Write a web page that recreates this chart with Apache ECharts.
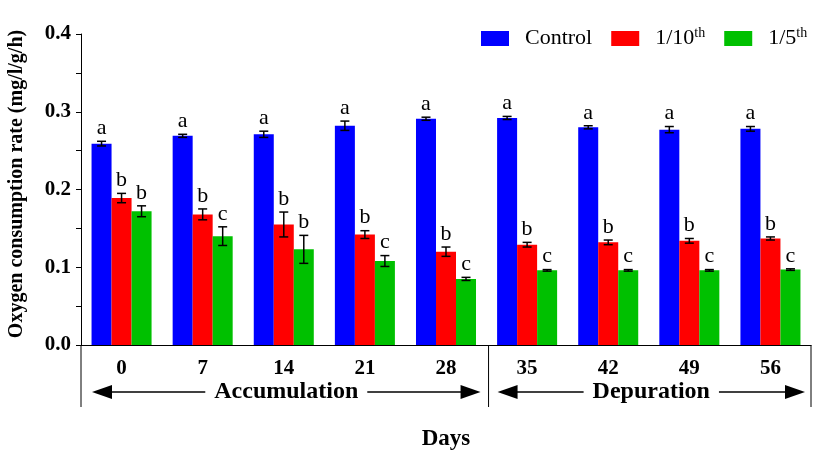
<!DOCTYPE html>
<html>
<head>
<meta charset="utf-8">
<script src="https://cdn.jsdelivr.net/npm/echarts@6/dist/echarts.min.js"></script>
<style>html,body{margin:0;padding:0;background:#fff}#c{width:829px;height:450px}</style>
</head>
<body>
<div id="c"></div>
<script>
const categories = ['0','7','14','21','28','35','42','49','56'];
const seriesNames = ['Control','1/10th','1/5th'];
const controlVals = [0.259,0.269,0.271,0.282,0.291,0.292,0.280,0.277,0.278];
const tenthVals   = [0.189,0.168,0.155,0.142,0.120,0.129,0.132,0.134,0.137];
const fifthVals   = [0.172,0.140,0.123,0.108,0.085,0.096,0.096,0.096,0.097];
const controlErr  = [0.003,0.002,0.004,0.006,0.002,0.002,0.002,0.004,0.003];
const tenthErr    = [0.006,0.007,0.016,0.005,0.006,0.003,0.003,0.003,0.002];
const fifthErr    = [0.007,0.012,0.018,0.007,0.002,0.001,0.001,0.001,0.001];
const controlSig  = ['a','a','a','a','a','a','a','a','a'];
const tenthSig    = ['b','b','b','b','b','b','b','b','b'];
const fifthSig    = ['b','c','b','c','c','c','c','c','c'];
const yTickLabels = ['0.0','0.1','0.2','0.3','0.4'];
const phaseNames  = ['Accumulation','Depuration'];
const phaseStart  = [0,5];
const phaseEnd    = [4,8];

const colors = ['#0000ff','#ff0000','#00c000'];
const FONT = "'Liberation Serif','Times New Roman',serif";
const CAT_GAP = 0.26;

const values = [controlVals, tenthVals, fifthVals];
const errs = [controlErr, tenthErr, fifthErr];
const sigs = [controlSig, tenthSig, fifthSig];

function errSeries(g) {
  return {
    type: 'custom',
    name: seriesNames[g] + '_err',
    z: 5,
    data: categories.map((c, i) => [i, values[g][i], errs[g][i], sigs[g][i]]),
    renderItem: function (params, api) {
      const idx = api.value(0), v = api.value(1), e = api.value(2);
      const band = api.size([1, 0])[0];
      const bw = band * (1 - CAT_GAP) / 3;
      const cx = api.coord([idx, 0])[0] + (g - 1) * bw;
      const yt = api.coord([idx, v + e])[1];
      const yb = api.coord([idx, v - e])[1];
      const cw = 4.5;
      const st = { stroke: '#000', lineWidth: 1.5 };
      return {
        type: 'group',
        children: [
          { type: 'line', shape: { x1: cx, y1: yt, x2: cx, y2: yb }, style: st },
          { type: 'line', shape: { x1: cx - cw, y1: yt, x2: cx + cw, y2: yt }, style: st },
          { type: 'line', shape: { x1: cx - cw, y1: yb, x2: cx + cw, y2: yb }, style: st },
          { type: 'text', x: cx, y: yt - 2, style: { text: sigs[g][idx], fill: '#000', font: '22px ' + FONT, textAlign: 'center', textVerticalAlign: 'bottom' } }
        ]
      };
    }
  };
}

const chart = echarts.init(document.getElementById('c'));
const option = {
  animation: false,
  backgroundColor: '#fff',
  grid: { left: 81, right: 18, top: 34, bottom: 105, containLabel: false, outerBoundsMode: 'none' },
  legend: {
    data: seriesNames,
    left: 481, top: 26, padding: 0,
    itemWidth: 28, itemHeight: 15, itemGap: 19,
    icon: 'rect',
    formatter: function (n) { return n.replace('th', '{sup|th}'); },
    textStyle: {
      fontFamily: FONT, fontSize: 22, color: '#000', padding: [0, 0, 0, 11],
      rich: { sup: { fontFamily: FONT, fontSize: 14, verticalAlign: 'bottom', padding: [0, 0, 11, 0] } }
    }
  },
  xAxis: {
    type: 'category',
    data: categories,
    name: 'Days',
    nameLocation: 'middle',
    nameGap: 83,
    nameTextStyle: { fontFamily: FONT, fontSize: 23, fontWeight: 'bold', color: '#000' },
    axisLine: { lineStyle: { color: '#000', width: 1 } },
    axisTick: { alignWithLabel: true, length: 7, lineStyle: { color: '#000' } },
    axisLabel: { fontFamily: FONT, fontSize: 21, fontWeight: 'bold', color: '#000', margin: 13 }
  },
  yAxis: {
    type: 'value',
    min: 0, max: 0.4, interval: 0.1,
    name: 'Oxygen consumption rate (mg/l/g/h)',
    nameLocation: 'middle',
    nameGap: 54,
    nameTextStyle: { fontFamily: FONT, fontSize: 20, fontWeight: 'bold', color: '#000', padding: [0, 0, 0, 11] },
    axisLine: { show: true, lineStyle: { color: '#000', width: 1 } },
    axisTick: { show: true, length: 5, lineStyle: { color: '#000' } },
    minorTick: { show: true, splitNumber: 2, length: 5, lineStyle: { color: '#000' } },
    splitLine: { show: false },
    axisLabel: {
      fontFamily: FONT, fontSize: 21, fontWeight: 'bold', color: '#000', margin: 10,
      formatter: function (v) { return yTickLabels[Math.round(v * 10)]; }
    }
  },
  series: [
    ...seriesNames.map((n, g) => ({
      type: 'bar', name: n, data: values[g],
      barGap: '0%', barCategoryGap: (CAT_GAP * 100) + '%',
      itemStyle: { color: colors[g] }
    })),
    errSeries(0), errSeries(1), errSeries(2)
  ]
};
chart.setOption(option);

// bottom phase decorations, positioned from the category axis scale
function px(i) { return chart.convertToPixel({ xAxisIndex: 0 }, i); }
const band = px(1) - px(0);
const axisY = chart.convertToPixel({ yAxisIndex: 0 }, 0);
const bottomY = axisY + 62;
const arrowY = axisY + 47;
const gfx = [];
const bounds = [];
phaseNames.forEach((name, k) => {
  const x0 = px(phaseStart[k]) - band / 2;
  const x1 = px(phaseEnd[k]) + band / 2;
  bounds.push(x0, x1);
  const a0 = x0 + 11, a1 = x1 - 6;
  const hl = 20, hh = 7;
  gfx.push({ type: 'line', shape: { x1: a0 + hl - 2, y1: arrowY, x2: a1 - hl + 2, y2: arrowY }, style: { stroke: '#000', lineWidth: 1.5 } });
  gfx.push({ type: 'polygon', shape: { points: [[a0, arrowY], [a0 + hl, arrowY - hh], [a0 + hl, arrowY + hh]] }, style: { fill: '#000' } });
  gfx.push({ type: 'polygon', shape: { points: [[a1, arrowY], [a1 - hl, arrowY - hh], [a1 - hl, arrowY + hh]] }, style: { fill: '#000' } });
  gfx.push({ type: 'text', x: (a0 + a1) / 2, y: arrowY, z: 10, style: { text: name, font: 'bold 24px ' + FONT, fill: '#000', textAlign: 'center', textVerticalAlign: 'middle', backgroundColor: '#fff', padding: [0, 9] } });
});
const seps = [bounds[0], (bounds[1] + bounds[2]) / 2 + 2, bounds[3]];
seps.forEach(x => gfx.push({ type: 'line', shape: { x1: x, y1: axisY, x2: x, y2: bottomY }, style: { stroke: '#000', lineWidth: 1 } }));
chart.setOption({ graphic: gfx });
</script>
</body>
</html>
